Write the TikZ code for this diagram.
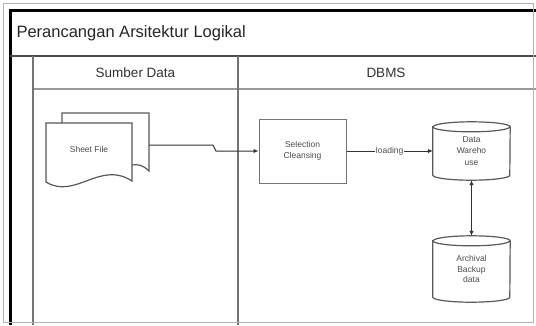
\documentclass[tikz,border=0pt]{standalone}
\usepackage{fontspec}
\setmainfont{Liberation Sans}
\usetikzlibrary{arrows.meta}
\newcommand\mycyl[1]{%
  \draw[shapeline] ([yshift=-5pt]#1.north west) -- ([yshift=5pt]#1.south west)
    arc[start angle=180,end angle=360,x radius=38.5pt,y radius=5pt]
    -- ([yshift=-5pt]#1.north east)
    arc[start angle=0,end angle=180,x radius=38.5pt,y radius=5pt] -- cycle;
  \draw[shapeline] ([yshift=-5pt]#1.north west)
    arc[start angle=180,end angle=360,x radius=38.5pt,y radius=5pt];
}
\begin{document}
\begin{tikzpicture}[x=1pt,y=-1pt,
  frame/.style={line width=3pt,black},
  lane/.style={line width=1.8pt,black!55},
  shapeline/.style={draw=black!65,line width=1.2pt},
  conn/.style={draw=black!80,line width=1pt,-{Latex[length=5pt,width=4.5pt]}},
  smalltext/.style={font=\fontsize{8.5}{11.5}\selectfont,text=black!70,align=center},
  header/.style={font=\fontsize{13.5}{16}\selectfont,text=black!80},
]
\useasboundingbox (0,0) rectangle (536,325);
\fill[white] (0,0) rectangle (536,325);
% frame and lanes
\draw[frame] (536,10) -- (10,10) -- (10,325);
\draw[line width=2pt,black!70] (10,56) -- (536,56);
\draw[black!40,line width=1.5pt] (33,89) -- (536,89);
\draw[lane] (33,56) -- (33,325);
\draw[lane] (238,56) -- (238,325);
\draw[black!30,line width=1pt] (3.5,3.5) rectangle (533.5,322.5);
\node[anchor=west,font=\fontsize{16.5}{19}\selectfont,text=black!85] (title) at (13,33) {Perancangan Arsitektur Logikal};
\node[header] (hsd) at (135.5,72.5) {Sumber Data};
\node[header] (hdb) at (386,72.5) {DBMS};
% document shape
\draw[shapeline,fill=white] (62,123) -- (62,113) -- (149,113) -- (149,171)
  .. controls (143,165) and (138,164) .. (132,165);
\draw[shapeline,fill=white] (46,123) -- (132,123) -- (132,181)
  .. controls (100,160) and (75,200) .. (46,182) -- cycle;
\node[smalltext] (sheet) at (89,149) {Sheet File};
\coordinate (docout) at (149,145);
% process box
\node[shapeline,draw=black!55,line width=1pt,minimum width=87pt,minimum height=64pt,inner sep=0pt,smalltext] (sel) at (302.5,151) {Selection\\Cleansing};
% cylinders
\node[minimum width=77pt,minimum height=58pt,inner sep=0pt,smalltext] (dwh) at (471.5,151) {Data\\Wareho\\use};
\mycyl{dwh}
\node[minimum width=77pt,minimum height=66pt,inner sep=0pt,smalltext,font=\fontsize{8.5}{10.5}\selectfont] (arch) at (471.5,269) {Archival\\Backup\\data};
\mycyl{arch}
% connectors
\coordinate (j1) at (213,145);
\coordinate (j2) at (216,151);
\draw[conn] (docout) -- (j1) -- (j2) -- (sel.west);
\draw[conn] (sel.east) -- (dwh.west) node[midway,fill=white,inner sep=1pt,smalltext] (load) {loading};
\draw[draw=black!80,line width=1pt,{Latex[length=5pt,width=4.5pt]}-{Latex[length=5pt,width=4.5pt]}] (dwh.south) -- (arch.north);
\end{tikzpicture}
\end{document}
